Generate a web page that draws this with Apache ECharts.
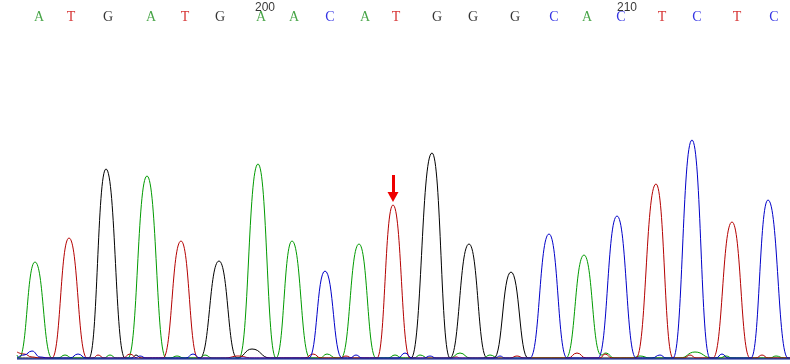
<!DOCTYPE html>
<html>
<head>
<meta charset="utf-8">
<script src="https://cdn.jsdelivr.net/npm/echarts@6/dist/echarts.min.js"></script>
<style>html,body{margin:0;padding:0;background:#fff;}#c{width:790px;height:364px;}</style>
</head>
<body>
<div id="c"></div>
<script>
// Base calls and their scan positions
var baseCalls = ['A','T','G','A','T','G','A','A','C','A','T','G','G','G','C','A','C','T','C','T','C'];
var basePos   = [39,71,108,151,185,220,261,294,330,365,396,437,473,515,554,587,621,662,697,737,774];
// Position numbers
var tickLabels = ['200','210'];
var tickPos    = [265,627];
// Trace vertices [scan position, signal]
var traceA = [[17,4],[19,1],[35,97],[52,1],[58,1],[65,4],[72,1],[104,1],[110,4],[116,1],[128,1],[147,183],[166,1],[170,1],[177,3],[184,1],[200,1],[205,4],[212,1],[239,1],[258,195],[276,1],[292,118],[310,1],[320,1],[327,5],[336,1],[341,1],[359,115],[376,1],[388,1],[395,4],[402,1],[414,1],[420,4],[428,1],[450,1],[460,6],[470,1],[483,1],[490,4],[498,1],[566,1],[584,104],[601,4],[606,6],[614,1],[632,1],[640,3],[650,1],[680,1],[695,7],[712,1],[720,1],[726,3],[732,1],[770,1],[776,3],[784,1],[790,1]];
var traceT = [[17,7],[24,5],[32,2],[40,1],[52,1],[69,121],[87,1],[93,1],[98,4],[104,1],[123,1],[130,5],[137,1],[163,1],[181,118],[198,1],[225,1],[238,3],[252,1],[305,1],[313,5],[321,1],[340,1],[346,3],[352,1],[377,1],[393,154],[410,1],[452,1],[456,2],[461,1],[510,1],[517,3],[524,1],[568,1],[577,6],[586,1],[600,1],[605,5],[612,1],[636,1],[656,175],[673,1],[684,1],[690,4],[696,1],[713,1],[732,137],[750,1],[756,1],[762,4],[768,1],[790,1]];
var traceC = [[17,1],[24,4],[32,8],[40,2],[48,1],[70,1],[78,5],[86,1],[135,1],[140,3],[146,1],[186,1],[193,5],[200,1],[309,1],[325,88],[342,1],[350,1],[356,4],[362,1],[398,1],[405,6],[412,1],[424,1],[430,3],[436,1],[495,1],[500,3],[505,1],[530,1],[549,125],[567,1],[598,1],[617,143],[636,1],[652,1],[660,4],[666,1],[673,1],[692,219],[710,1],[716,1],[722,5],[728,1],[751,1],[768,159],[788,1],[790,1]];
var traceG = [[17,1],[80,1],[89,1],[106,190],[125,1],[132,1],[136,4],[141,1],[190,1],[200,1],[219,98],[237,1],[252,10],[270,1],[400,1],[411,1],[432,206],[450,1],[469,115],[487,1],[494,1],[511,87],[528,1],[540,1],[790,1]];
// Marked variant position
var arrowPos = 393;

var baseColor = {A:'#1a8f1a', T:'#cc0000', G:'#000000', C:'#0000dd'};
var chart = echarts.init(document.getElementById('c'));
function trace(name, data, color){
  return {name:name, type:'line', data:data, symbol:'none', smooth:0.5, smoothMonotone:'x',
    lineStyle:{color:color, width:1}, z:2};
}
var callData = baseCalls.map(function(b,i){
  return {value:[basePos[i],342], label:{show:true, formatter:b, color:baseColor[b]}};
});
var tickData = tickLabels.map(function(t,i){ return {value:[tickPos[i],351], label:{show:true, formatter:t}}; });
chart.setOption({
  animation:false,
  backgroundColor:'#ffffff',
  grid:{left:0,right:0,top:0,bottom:5},
  xAxis:{type:'value', min:0, max:790, axisLine:{show:false}, axisTick:{show:false}, axisLabel:{show:false}, splitLine:{show:false}},
  yAxis:{type:'value', min:0, max:359, show:false, splitLine:{show:false}},
  series:[
    trace('G', traceG, '#000000'),
    trace('A', traceA, '#009a00'),
    trace('T', traceT, '#b40000'),
    trace('C', traceC, '#0000c8'),
    {type:'line', data:[[17,0],[790,0]], symbol:'none', lineStyle:{color:'#1c2f9a', width:1.5}, z:3},
    {type:'scatter', data:callData, symbolSize:0, silent:true,
      label:{position:'inside', fontFamily:'Liberation Serif', fontSize:14}},
    {type:'scatter', data:tickData, symbolSize:0, silent:true,
      label:{position:'inside', fontFamily:'Liberation Sans', fontSize:12, color:'#000'}},
    {type:'line', data:[], symbol:'none',
      markLine:{silent:true, symbol:['none','triangle'], symbolSize:[11,10], label:{show:false},
        lineStyle:{color:'#ee0000', width:3, type:'solid'},
        data:[[{coord:[arrowPos,184]},{coord:[arrowPos,162]}]]}}
  ]
});
</script>
</body>
</html>
